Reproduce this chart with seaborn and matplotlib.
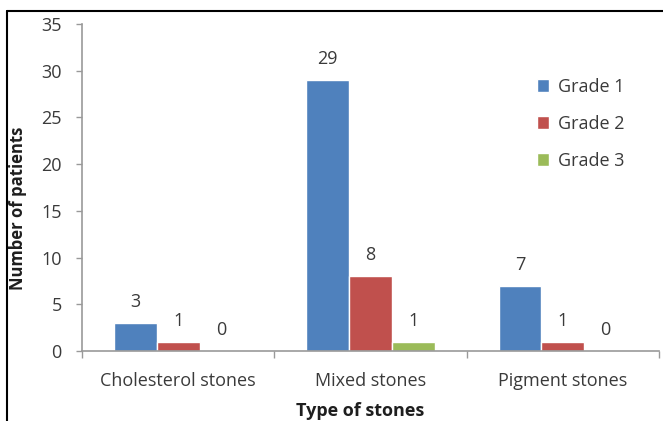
import matplotlib
matplotlib.use("Agg")
import matplotlib.pyplot as plt
import seaborn as sns
import pandas as pd
from matplotlib.lines import Line2D
from matplotlib.ticker import FixedLocator

# Patients by stone type and grade
stone_types = ["Cholesterol stones", "Mixed stones", "Pigment stones"]
grades = ["Grade 1", "Grade 2", "Grade 3"]
grade1 = [3, 29, 7]
grade2 = [1, 8, 1]
grade3 = [0, 1, 0]
y_ticks = [0, 5, 10, 15, 20, 25, 30, 35]

rows = []
for g, vals in zip(grades, [grade1, grade2, grade3]):
    for s, v in zip(stone_types, vals):
        rows.append({"Type of stones": s, "Grade": g, "Patients": v})
df = pd.DataFrame(rows)

sns.set_theme(style="white")
plt.rcParams["font.family"] = ["Open Sans", "DejaVu Sans"]

palette = ["#4F81BD", "#C0504D", "#9BBB59"]
text_color = "#3A3A3A"
axis_color = "#999999"

fig = plt.figure(figsize=(6.63, 4.21), dpi=100)
ax = fig.add_axes([82 / 663, 70 / 421, 577 / 663, 327 / 421])

sns.barplot(data=df, x="Type of stones", y="Patients", hue="Grade",
            palette=palette, width=0.667, saturation=1, ax=ax,
            errorbar=None, legend=True)

for cont in ax.containers:
    ax.bar_label(cont, padding=8.5, fontsize=13, color=text_color)

ax.set_xlim(-0.5, 2.5)
ax.set_ylim(0, 35)
ax.set_yticks(y_ticks)
ax.set_yticklabels([str(t) for t in y_ticks])

ax.xaxis.set_minor_locator(FixedLocator([-0.5, 0.5, 1.5, 2.5]))
ax.tick_params(axis="x", which="major", length=0, pad=15,
               labelsize=13, labelcolor=text_color)
ax.tick_params(axis="x", which="minor", length=5, width=1,
               color=axis_color, direction="out")
ax.tick_params(axis="y", which="major", length=4.5, width=1,
               color=axis_color, direction="out", pad=10,
               labelsize=13, labelcolor=text_color)
ax.tick_params(bottom=True, left=True, which="both")

for side in ["top", "right"]:
    ax.spines[side].set_visible(False)
for side in ["left", "bottom"]:
    ax.spines[side].set_color(axis_color)
    ax.spines[side].set_linewidth(1.2)

ax.set_xlabel("Type of stones", fontsize=13, fontweight="bold", color="#1E1E1E")
ax.xaxis.set_label_coords((360 - 82) / 577, -(402 - 351) / 327)
ax.set_ylabel("Number of patients", fontsize=12, fontweight="bold", color="#1E1E1E")
ax.yaxis.set_label_coords(-(82 - 27) / 577, (351 - 208) / 327)

leg = ax.legend(loc="upper left", bbox_to_anchor=(0.76, 0.885), frameon=False,
                fontsize=13, handlelength=0.7, handleheight=0.7,
                handletextpad=0.45, labelspacing=1.05)
for t in leg.get_texts():
    t.set_color(text_color)

# outer frame of the figure (left and top edges)
fig.add_artist(Line2D([6.5 / 663, 6.5 / 663], [0, 1 - 10.5 / 421],
                      transform=fig.transFigure, color="black", linewidth=1.5))
fig.add_artist(Line2D([6.5 / 663, 1], [1 - 10.5 / 421, 1 - 10.5 / 421],
                      transform=fig.transFigure, color="black", linewidth=1.5))

fig.savefig("out.png", dpi=100)
